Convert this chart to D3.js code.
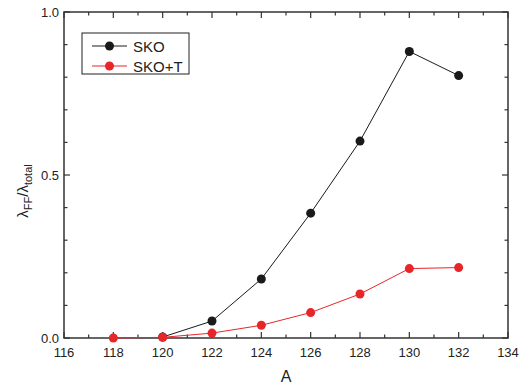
<!DOCTYPE html>
<html><head><meta charset="utf-8">
<script src="https://cdn.jsdelivr.net/npm/d3@7"></script>
<style>body{margin:0;background:#fff}svg{display:block}text{font-family:"Liberation Sans",Arial,sans-serif}</style>
</head><body><svg id="c" width="528" height="388"></svg>
<script>
const skoA = [120, 122, 124, 126, 128, 130, 132];
const skoV = [0.003, 0.052, 0.181, 0.383, 0.604, 0.879, 0.805];
const skotA = [118, 120, 122, 124, 126, 128, 130, 132];
const skotV = [0.0, 0.002, 0.015, 0.039, 0.078, 0.135, 0.213, 0.216];
const xTicks = [116, 118, 120, 122, 124, 126, 128, 130, 132, 134];
const yTicks = [0.0, 0.5, 1.0];
const seriesNames = ["SKO", "SKO+T"];
const colors = ["#1a1a1a", "#e8262a"];

const svg = d3.select("#c");
const L = 64, R = 508, T = 12, B = 338;
const x = d3.scaleLinear().domain([116, 134]).range([L, R]);
const y = d3.scaleLinear().domain([0, 1]).range([B, T]);
const axc = "#333";

const xMinor = d3.range(117, 134, 2);
const yMinor = d3.range(0.1, 1.0, 0.1).filter(v => Math.abs(v - 0.5) > 1e-6);
const g = svg.append("g");
function tick(x1, y1, x2, y2) {
  g.append("line").attr("x1", x1).attr("y1", y1).attr("x2", x2).attr("y2", y2)
    .attr("stroke", axc).attr("stroke-width", 1.2);
}
xTicks.forEach(v => { tick(x(v), B, x(v), B - 6); tick(x(v), T, x(v), T + 6); });
xMinor.forEach(v => { tick(x(v), B, x(v), B - 3.5); tick(x(v), T, x(v), T + 3.5); });
yTicks.forEach(v => { tick(L, y(v), L + 6, y(v)); tick(R, y(v), R - 6, y(v)); });
yMinor.forEach(v => { tick(L, y(v), L + 3.5, y(v)); tick(R, y(v), R - 3.5, y(v)); });

g.append("rect").attr("x", L).attr("y", T).attr("width", R - L).attr("height", B - T)
  .attr("fill", "none").attr("stroke", axc).attr("stroke-width", 1.5);

xTicks.forEach(v => {
  svg.append("text").attr("x", x(v)).attr("y", 357).attr("text-anchor", "middle")
    .attr("font-size", 13).attr("fill", "#222").text(v);
});
yTicks.forEach(v => {
  svg.append("text").attr("x", L - 5).attr("y", y(v) + 4.5).attr("text-anchor", "end")
    .attr("font-size", 13).attr("fill", "#222").text(d3.format(".1f")(v));
});

svg.append("text").attr("x", (L + R) / 2).attr("y", 382).attr("text-anchor", "middle")
  .attr("font-size", 16).attr("fill", "#222").text("A");
const yt = svg.append("text").attr("transform", "translate(28,191) rotate(-90)")
  .attr("text-anchor", "middle").attr("font-size", 15).attr("fill", "#222");
yt.append("tspan").text("λ");
yt.append("tspan").attr("font-size", 11).attr("dy", 4).text("FF");
yt.append("tspan").attr("dy", -4).text("/λ");
yt.append("tspan").attr("font-size", 11).attr("dy", 4).text("total");

const line = d3.line().x(d => x(d[0])).y(d => y(d[1]));
const data = [d3.zip(skoA, skoV), d3.zip(skotA, skotV)];
data.forEach((d, i) => {
  svg.append("path").datum(d).attr("d", line).attr("fill", "none")
    .attr("stroke", colors[i]).attr("stroke-width", 1);
  svg.append("g").selectAll("circle").data(d).join("circle")
    .attr("cx", p => x(p[0])).attr("cy", p => y(p[1])).attr("r", 4.5)
    .attr("fill", colors[i]);
});

svg.append("rect").attr("x", 82).attr("y", 33).attr("width", 107).attr("height", 41)
  .attr("fill", "#fff").attr("stroke", "#222").attr("stroke-width", 1);
seriesNames.forEach((n, i) => {
  const ly = 46 + i * 20;
  svg.append("line").attr("x1", 92).attr("x2", 127).attr("y1", ly).attr("y2", ly)
    .attr("stroke", colors[i]).attr("stroke-width", 1);
  svg.append("circle").attr("cx", 109.5).attr("cy", ly).attr("r", 4.5).attr("fill", colors[i]);
  svg.append("text").attr("x", 133).attr("y", ly + 5.5).attr("font-size", 15)
    .attr("fill", "#222").text(n);
});
</script></body></html>
